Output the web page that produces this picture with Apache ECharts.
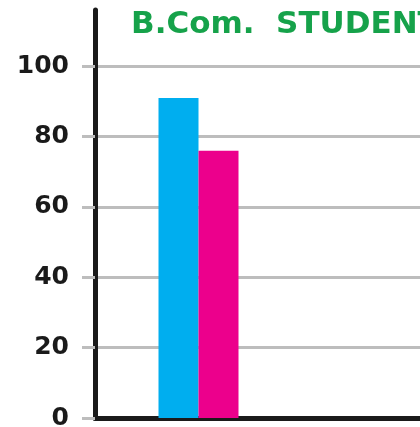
<!DOCTYPE html>
<html>
<head>
<meta charset="utf-8">
<script src="https://cdn.jsdelivr.net/npm/echarts@6/dist/echarts.min.js"></script>
<style>
html, body { margin: 0; padding: 0; background: #fff; }
#chart { width: 420px; height: 427px; }
</style>
</head>
<body>
<div id="chart"></div>
<script>
// data (right part of the chart is cropped)
const categories = ['B.Com.', '']
const seriesA = [91, null]
const seriesB = [76, null]
const yTicks = [0, 20, 40, 60, 80, 100]

const myChart = echarts.init(document.getElementById('chart'))

myChart.setOption({
    animation: false,
    title: {
        text: 'B.Com.  STUDENTS',
        left: 126,
        top: 4,
        textStyle: {
            color: '#16a24a',
            fontFamily: 'DejaVu Sans',
            fontWeight: 'bold',
            fontSize: 31
        }
    },
    grid: {
        left: 95,
        width: 414,
        top: 10,
        bottom: 9,
        containLabel: false,
        outerBoundsMode: 'none'
    },
    xAxis: {
        type: 'category',
        data: categories,
        axisLine: {
            lineStyle: { color: '#1a1a1a', width: 5 }
        },
        axisTick: { show: false },
        axisLabel: { show: false },
        splitLine: { show: false }
    },
    yAxis: {
        type: 'value',
        min: 0,
        max: 116,
        interval: 20,
        axisLine: {
            show: true,
            lineStyle: { color: '#1a1a1a', width: 5 }
        },
        axisTick: {
            show: true,
            length: 13,
            lineStyle: { color: '#bdbdbd', width: 3 }
        },
        axisLabel: {
            margin: 26,
            color: '#1a1a1a',
            fontFamily: 'DejaVu Sans',
            fontWeight: 'bold',
            fontSize: 25,
            showMaxLabel: false,
            formatter: function (v) {
                return yTicks.indexOf(v) >= 0 ? String(v) : ''
            }
        },
        splitLine: {
            show: true,
            showMinLine: false,
            showMaxLine: false,
            lineStyle: { color: '#bdbdbd', width: 3 }
        }
    },
    series: [
        {
            type: 'bar',
            data: seriesA,
            barWidth: 40,
            barGap: '0%',
            itemStyle: { color: '#00aeef' }
        },
        {
            type: 'bar',
            data: seriesB,
            barWidth: 40,
            barGap: '0%',
            itemStyle: { color: '#ec008c' }
        }
    ]
})
</script>
</body>
</html>
